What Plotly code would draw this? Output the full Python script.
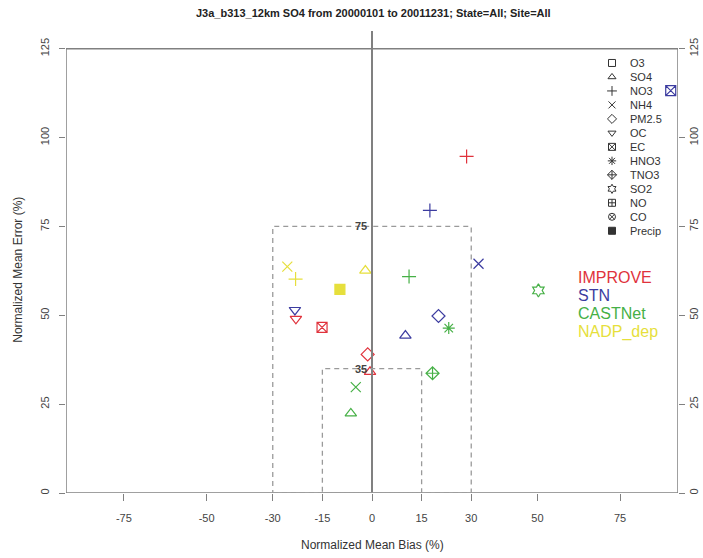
import plotly.graph_objects as go

# ---------------- data ----------------
species = ["O3", "SO4", "NO3", "NH4", "PM2.5", "OC", "EC", "HNO3", "TNO3", "SO2", "NO", "CO", "Precip"]
symbols = ["square-open", "triangle-up-open", "cross-thin-open", "x-thin-open", "diamond-open",
           "triangle-down-open", "square-x-open", "asterisk-open", "diamond-cross-open",
           "hexagram-open", "square-cross-open", "circle-x-open", "square"]

networks = ["IMPROVE", "STN", "CASTNet", "NADP_dep"]
net_colors = ["#e0323c", "#3c3ca0", "#46b046", "#e6df3c"]

improve_species = ["NO3", "OC", "EC", "PM2.5", "SO4"]
improve_nmb = [28.6, -23.0, -15.1, -1.3, -0.6]
improve_nme = [94.7, 49.0, 46.6, 39.0, 34.1]

stn_species = ["NO3", "NH4", "OC", "PM2.5", "SO4", "EC"]
stn_nmb = [17.5, 32.2, -23.3, 20.1, 10.1, 90.3]
stn_nme = [79.5, 64.5, 51.5, 49.8, 44.3, 113.2]

castnet_species = ["NO3", "HNO3", "TNO3", "NH4", "SO4", "SO2"]
castnet_nmb = [11.2, 23.2, 18.3, -4.9, -6.4, 50.3]
castnet_nme = [60.9, 46.4, 33.7, 29.8, 22.4, 57.0]

nadp_species = ["NH4", "NO3", "SO4", "Precip"]
nadp_nmb = [-25.6, -23.1, -2.0, -9.7]
nadp_nme = [63.7, 60.2, 62.6, 57.3]

x_ticks = [-75, -50, -30, -15, 0, 15, 30, 50, 75]
y_ticks = [0, 25, 50, 75, 100, 125]
criteria_outer = (30, 75)
criteria_inner = (15, 35)

title = "J3a_b313_12km SO4 from 20000101 to 20011231; State=All; Site=All"

# ---------------- layout constants ----------------
W, H = 703, 558
L, R, T, B = 66, 678, 31, 493.5
XR = [-92.5, 92.5]
YR = [0, 130]
FONT = "Liberation Sans, Arial, sans-serif"
sym_of = dict(zip(species, symbols))


def px(xp):
    return (xp - L) / (R - L)


def py(yp):
    return (B - yp) / (B - T)


fig = go.Figure()

series = [(improve_species, improve_nmb, improve_nme),
          (stn_species, stn_nmb, stn_nme),
          (castnet_species, castnet_nmb, castnet_nme),
          (nadp_species, nadp_nmb, nadp_nme)]
for name, col, (sp, xs, ys) in zip(networks, net_colors, series):
    fig.add_trace(go.Scatter(
        x=xs, y=ys, mode="markers", name=name, showlegend=False,
        marker=dict(symbol=[sym_of[s] for s in sp], size=10, color=col,
                    line=dict(color=col, width=1.2)),
        xaxis="x", yaxis="y"))

# legend key symbols on a hidden pixel-space overlay axis
leg_x0, leg_y0, leg_dy = 612, 63, 14
fig.add_trace(go.Scatter(
    x=[leg_x0] * len(species), y=[leg_y0 + leg_dy * i for i in range(len(species))],
    mode="markers", showlegend=False, hoverinfo="skip",
    marker=dict(symbol=symbols, size=7, color="#333", line=dict(color="#333", width=1)),
    xaxis="x3", yaxis="y3"))

# ---------------- shapes ----------------
shapes = []
gray = "#808080"
shapes += [
    dict(type="line", xref="x", yref="y", x0=XR[0], x1=XR[1], y0=0, y1=0, line=dict(color=gray, width=1.5)),
    dict(type="line", xref="x", yref="y", x0=XR[0], x1=XR[1], y0=125, y1=125, line=dict(color=gray, width=1.5)),
    dict(type="line", xref="x", yref="y", x0=XR[0], x1=XR[0], y0=0, y1=125, line=dict(color=gray, width=1.5)),
    dict(type="line", xref="x", yref="y", x0=XR[1], x1=XR[1], y0=0, y1=125, line=dict(color=gray, width=1.5)),
    dict(type="line", xref="x", yref="y", x0=0, x1=0, y0=0, y1=YR[1], line=dict(color="#808080", width=2)),
]
for bx, by in (criteria_outer, criteria_inner):
    shapes.append(dict(type="rect", xref="x", yref="y", x0=-bx, x1=bx, y0=0, y1=by,
                       line=dict(color="#9a9a9a", width=1.3, dash="5px,4px")))

# ---------------- annotations ----------------
ann = []
ann.append(dict(text="<b>" + title + "</b>", x=px(373), y=py(13), xref="paper", yref="paper",
                showarrow=False, font=dict(size=11, color="#222", family=FONT),
                xanchor="center", yanchor="middle"))
ann.append(dict(text="Normalized Mean Bias (%)", x=px(372), y=py(546), xref="paper", yref="paper",
                showarrow=False, font=dict(size=12, color="#333", family=FONT),
                xanchor="center", yanchor="middle"))
ann.append(dict(text="Normalized Mean Error (%)", x=px(18), y=py(270), xref="paper", yref="paper",
                showarrow=False, textangle=-90, font=dict(size=12, color="#333", family=FONT),
                xanchor="center", yanchor="middle"))
for bx, by in (criteria_outer, criteria_inner):
    ann.append(dict(text="<b>%d</b>" % by, x=-1.0, y=by, xref="x", yref="y", showarrow=False,
                    font=dict(size=11, color="#444", family=FONT), xanchor="right", yanchor="middle"))
for i, s in enumerate(species):
    ann.append(dict(text=s, x=px(628), y=py(leg_y0 + leg_dy * i), xref="paper", yref="paper",
                    showarrow=False, font=dict(size=11, color="#333", family=FONT),
                    xanchor="left", yanchor="middle"))
for i, (n, c) in enumerate(zip(networks, net_colors)):
    ann.append(dict(text=n, x=px(576), y=py(278 + 18 * i), xref="paper", yref="paper",
                    showarrow=False, font=dict(size=16, color=c, family=FONT),
                    xanchor="left", yanchor="middle"))

tickfont = dict(size=11, color="#444", family=FONT)
fig.update_layout(
    width=W, height=H,
    margin=dict(l=L, r=W - R, t=T, b=H - B, pad=0, autoexpand=False),
    paper_bgcolor="white", plot_bgcolor="white",
    showlegend=False,
    xaxis=dict(range=XR, tickvals=x_ticks, ticktext=[str(v) for v in x_ticks],
               ticks="outside", ticklen=7, tickcolor=gray, tickwidth=1.2,
               showgrid=False, zeroline=False, showline=False, automargin=False,
               tickfont=tickfont, ticklabelstandoff=8, fixedrange=True),
    yaxis=dict(range=YR, tickvals=y_ticks, ticks="outside", ticklen=6, tickcolor=gray, tickwidth=1.2,
               showgrid=False, zeroline=False, showline=False, tickangle=-90, automargin=False,
               tickfont=tickfont, ticklabelstandoff=6, fixedrange=True),
    yaxis2=dict(range=YR, tickvals=y_ticks, ticks="outside", ticklen=6, tickcolor=gray, tickwidth=1.2,
                showgrid=False, zeroline=False, showline=False, tickangle=-90, automargin=False,
                tickfont=tickfont, ticklabelstandoff=0, overlaying="y", side="right", fixedrange=True),
    xaxis3=dict(range=[L, R], overlaying="x", visible=False, fixedrange=True, automargin=False),
    yaxis3=dict(range=[B, T], overlaying="y", visible=False, fixedrange=True, automargin=False),
    shapes=shapes, annotations=ann,
)
fig.add_trace(go.Scatter(x=[None], y=[None], xaxis="x", yaxis="y2", showlegend=False))

fig.write_html("out.html", config={"displayModeBar": False},
               post_script="document.body.style.margin='0';")
